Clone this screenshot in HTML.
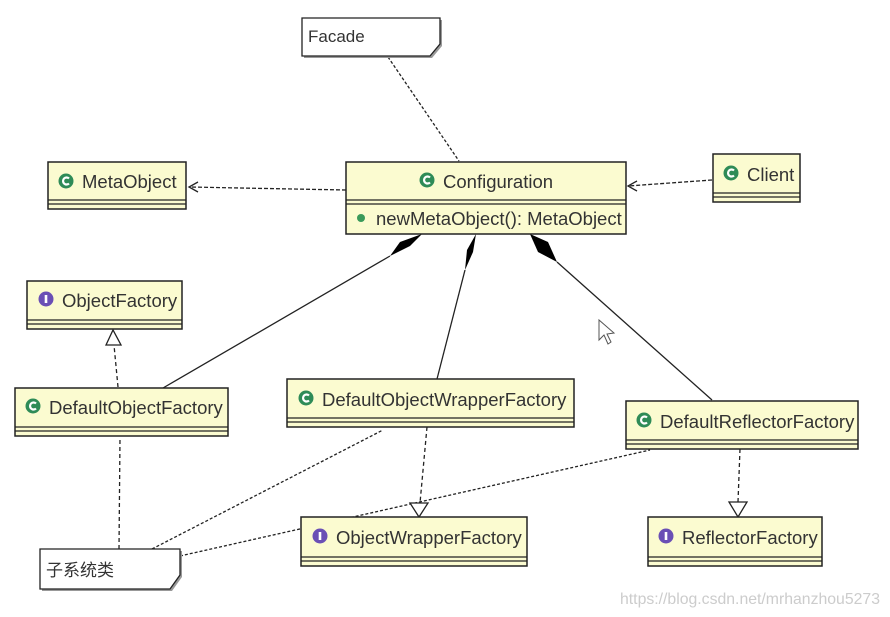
<!DOCTYPE html>
<html><head><meta charset="utf-8"><style>
html,body{margin:0;padding:0;background:#fff;}
svg{display:block;}
text{font-family:"Liberation Sans","Noto Sans CJK SC",sans-serif;font-size:18.5px;fill:#333;}
</style></head><body>
<svg width="890" height="617" viewBox="0 0 890 617" xmlns="http://www.w3.org/2000/svg">
<defs>
<g id="ci"><circle r="7.5" fill="#2e8b57"/><path d="M3 -2.5 A3.5 3.5 0 1 0 3 2.5" stroke="#fff" stroke-width="2.2" fill="none"/></g>
<g id="ii"><circle r="7.5" fill="#6a4fb5"/><rect x="-1.3" y="-4" width="2.6" height="8" fill="#fff"/></g>
</defs>

<!-- connectors -->
<g stroke="#222" stroke-width="1.3" fill="none">
<line x1="388" y1="57" x2="459" y2="161" stroke-dasharray="3,2"/>
<path d="M346 190 L240 188 L190 187" stroke-dasharray="4,2"/>
<path d="M198 182 L189 187 L198 192"/>
<path d="M712 180 L628 186" stroke-dasharray="4,2"/>
<path d="M637 181 L628 186 L637 191"/>
<line x1="390" y1="256" x2="163" y2="388"/>
<line x1="465" y1="270" x2="437" y2="379"/>
<line x1="557" y1="262" x2="712" y2="400"/>
<line x1="118" y1="387" x2="114" y2="345" stroke-dasharray="4,3"/>
<line x1="427" y1="427" x2="420" y2="503" stroke-dasharray="4,3"/>
<line x1="740" y1="449" x2="738" y2="502" stroke-dasharray="4,3"/>
<line x1="119" y1="549" x2="120" y2="437" stroke-dasharray="4,3"/>
<line x1="152" y1="549" x2="383" y2="430" stroke-dasharray="3,2"/>
<line x1="180" y1="556" x2="650" y2="450" stroke-dasharray="3,2"/>
</g>
<g stroke="#222" stroke-width="1.3" fill="#fff">
<path d="M106 345 L113 330 L121 345 Z"/>
<path d="M410 503 L428 503 L419 517 Z"/>
<path d="M729 502 L747 502 L738 517 Z"/>
</g>
<g fill="#000">
<path d="M422 234 L410 246 L390 256 L400 242 Z"/>
<path d="M476 234 L473 252 L465 270 L467 250 Z"/>
<path d="M530 234 L548 242 L557 262 L538 252 Z"/>
</g>

<!-- notes -->
<g stroke="#222" stroke-width="1.3">
<path d="M304 20 L442 20 L442 46 L432 58 L304 58 Z" fill="#999" stroke="none"/>
<path d="M302 18 L440 18 L440 44 L430 56 L302 56 Z" fill="#fff"/>
<path d="M42 551 L182 551 L182 577 L172 591 L42 591 Z" fill="#999" stroke="none"/>
<path d="M40 549 L180 549 L180 575 L170 589 L40 589 Z" fill="#fff"/>
</g>
<text x="308" y="42" style="font-size:17px">Facade</text>
<text x="46" y="576" style="font-size:17px">子系统类</text>

<!-- class boxes -->
<g stroke="#222" stroke-width="1.5" fill="#fbfbd0">
<rect x="48" y="162" width="138" height="47"/>
<rect x="346" y="162" width="280" height="72"/>
<rect x="713" y="154" width="87" height="48"/>
<rect x="27" y="281" width="155" height="48"/>
<rect x="15" y="388" width="213" height="48"/>
<rect x="287" y="379" width="287" height="48"/>
<rect x="626" y="401" width="232" height="48"/>
<rect x="301" y="517" width="226" height="49"/>
<rect x="648" y="517" width="174" height="49"/>
</g>
<g stroke="#222" stroke-width="1.3">
<line x1="48" y1="200" x2="186" y2="200"/><line x1="48" y1="204" x2="186" y2="204"/>
<line x1="346" y1="200" x2="626" y2="200"/><line x1="346" y1="204" x2="626" y2="204"/>
<line x1="713" y1="193" x2="800" y2="193"/><line x1="713" y1="197" x2="800" y2="197"/>
<line x1="27" y1="320" x2="182" y2="320"/><line x1="27" y1="324" x2="182" y2="324"/>
<line x1="15" y1="427" x2="228" y2="427"/><line x1="15" y1="431" x2="228" y2="431"/>
<line x1="287" y1="418" x2="574" y2="418"/><line x1="287" y1="422" x2="574" y2="422"/>
<line x1="626" y1="440" x2="858" y2="440"/><line x1="626" y1="444" x2="858" y2="444"/>
<line x1="301" y1="557" x2="527" y2="557"/><line x1="301" y1="561" x2="527" y2="561"/>
<line x1="648" y1="557" x2="822" y2="557"/><line x1="648" y1="561" x2="822" y2="561"/>
</g>

<use href="#ci" x="66" y="181"/><text x="82" y="188">MetaObject</text>
<use href="#ci" x="427" y="180"/><text x="443" y="188">Configuration</text>
<circle cx="361" cy="218" r="4" fill="#3a9a5a"/><text x="376" y="225">newMetaObject(): MetaObject</text>
<use href="#ci" x="731" y="173"/><text x="747" y="181">Client</text>
<use href="#ii" x="46" y="299"/><text x="62" y="307">ObjectFactory</text>
<use href="#ci" x="33" y="406"/><text x="49" y="414">DefaultObjectFactory</text>
<use href="#ci" x="306" y="398"/><text x="322" y="406">DefaultObjectWrapperFactory</text>
<use href="#ci" x="644" y="420"/><text x="660" y="428">DefaultReflectorFactory</text>
<use href="#ii" x="320" y="536"/><text x="336" y="544">ObjectWrapperFactory</text>
<use href="#ii" x="666" y="536"/><text x="682" y="544">ReflectorFactory</text>

<!-- cursor -->
<path d="M599 320 L599 340 L604 335 L608 344 L611 342 L607 334 L614 333 Z" fill="#fff" stroke="#555" stroke-width="1"/>

<text x="620" y="604" textLength="260" lengthAdjust="spacingAndGlyphs" style="font-size:16px;fill:#ccc">https://blog.csdn.net/mrhanzhou5273</text>
</svg>
</body></html>
